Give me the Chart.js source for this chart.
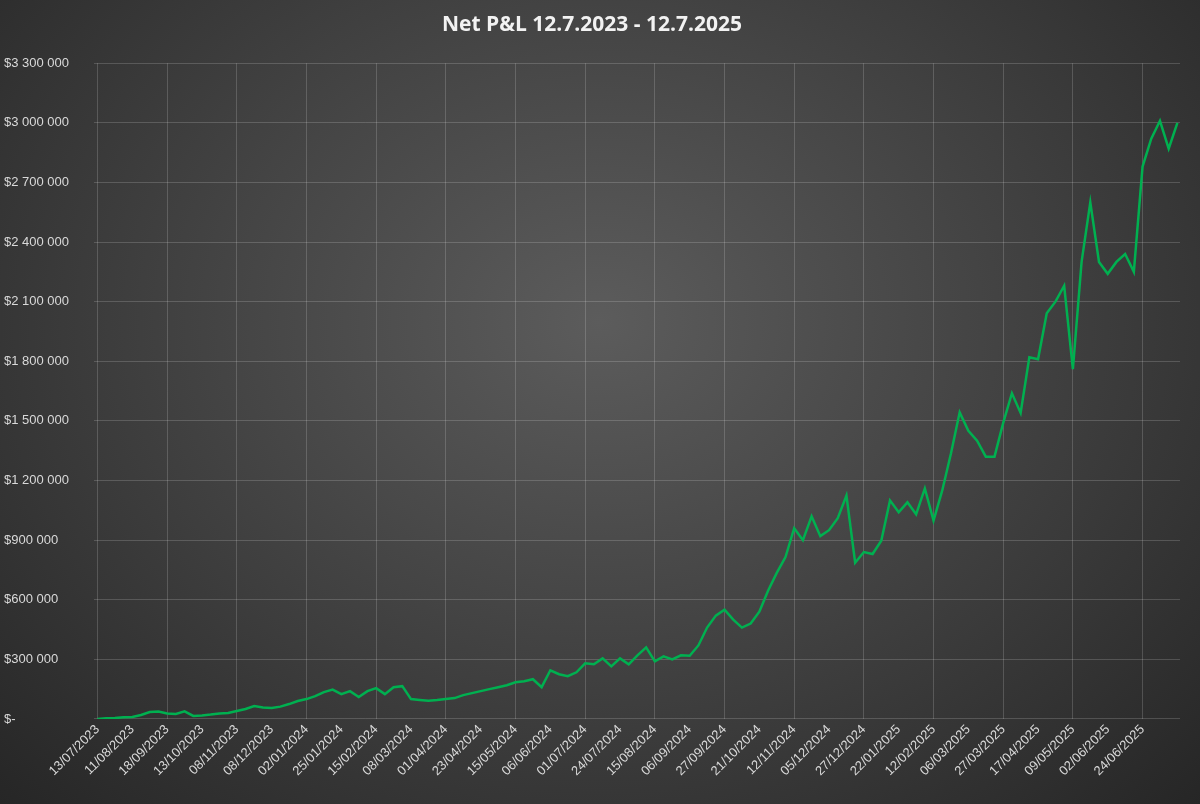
<!DOCTYPE html>
<html><head><meta charset="utf-8">
<script src="https://cdn.jsdelivr.net/npm/chart.js@4"></script>
<style>
html,body{margin:0;padding:0;}
body{width:1200px;height:804px;background:radial-gradient(ellipse at 50% 40%, #5c5c5c 0%, #444 45%, #262626 100%);overflow:hidden;}
#wrap{position:relative;width:1200px;height:804px;}
</style></head>
<body><div id="wrap"><canvas id="c" width="1200" height="804"></canvas></div>
<script>
const titleText = 'Net P&L 12.7.2023 - 12.7.2025';
const dateLabels = ['13/07/2023','11/08/2023','18/09/2023','13/10/2023','08/11/2023','08/12/2023','02/01/2024','25/01/2024','15/02/2024','08/03/2024','01/04/2024','23/04/2024','15/05/2024','06/06/2024','01/07/2024','24/07/2024','15/08/2024','06/09/2024','27/09/2024','21/10/2024','12/11/2024','05/12/2024','27/12/2024','22/01/2025','12/02/2025','06/03/2025','27/03/2025','17/04/2025','09/05/2025','02/06/2025','24/06/2025'];
const pointsPerLabel = 4;
// Net P&L in thousands of $
const pnlThousands = [0,3,5,8,10,20,35,38,28,25,38,15,18,22,28,30,40,50,65,58,55,62,75,90,100,115,135,148,125,140,110,140,155,125,160,165,100,96,92,95,100,105,120,130,140,150,160,170,185,190,200,160,245,225,215,235,280,275,305,265,305,275,320,360,290,315,300,320,318,370,460,520,550,500,460,480,540,645,735,815,960,900,1020,920,950,1010,1124,786,840,830,897,1100,1040,1090,1030,1160,998,1150,1336,1543,1450,1400,1320,1320,1490,1639,1540,1820,1810,2042,2100,2180,1760,2300,2600,2300,2240,2300,2340,2250,2780,2920,3010,2870,3000];
const yTickValues = [0,300000,600000,900000,1200000,1500000,1800000,2100000,2400000,2700000,3000000,3300000];
const yTickLabels = ['$-','$300 000','$600 000','$900 000','$1 200 000','$1 500 000','$1 800 000','$2 100 000','$2 400 000','$2 700 000','$3 000 000','$3 300 000'];

const data = pnlThousands.map((v,i)=>({x:i,y:v*1000}));
const txt = '#d9d9d9';
const font = {family:'Liberation Sans, Arial, sans-serif', size:13};
new Chart(document.getElementById('c'),{
  type:'line',
  data:{datasets:[{data, borderColor:'#00b050', borderWidth:2.5, pointRadius:0, tension:0, fill:false}]},
  options:{
    responsive:false, animation:false,
    layout:{padding:{left:4,right:20,top:0,bottom:22}},
    plugins:{legend:{display:false},tooltip:{enabled:false},
      title:{display:true,text:titleText,color:'#f2f2f2',font:{family:'Open Sans, Liberation Sans, sans-serif',size:21,weight:'bold'},padding:{top:12,bottom:26}}},
    scales:{
      x:{type:'linear',min:-0.4,max:124.3,
        afterBuildTicks:(ax)=>{ax.ticks=dateLabels.map((_,k)=>({value:k*pointsPerLabel}));},
        ticks:{autoSkip:false,maxRotation:45,minRotation:45,color:txt,font,padding:3,
          callback:(v)=>dateLabels[Math.round(v/pointsPerLabel)]},
        grid:{drawTicks:false,color:(c)=>(c.index%2===0?'rgba(255,255,255,0.17)':'rgba(0,0,0,0)')},
        border:{display:false}},
      y:{min:0,max:3300000,
        afterBuildTicks:(ax)=>{ax.ticks=yTickValues.map(v=>({value:v}));},
        afterFit:(ax)=>{ax.width=90;},
        ticks:{color:txt,font,crossAlign:'far',padding:4,
          callback:(v)=>yTickLabels[yTickValues.indexOf(v)]},
        grid:{drawTicks:false,color:'rgba(255,255,255,0.17)'},
        border:{display:false}}
    }
  }
});
</script></body></html>
